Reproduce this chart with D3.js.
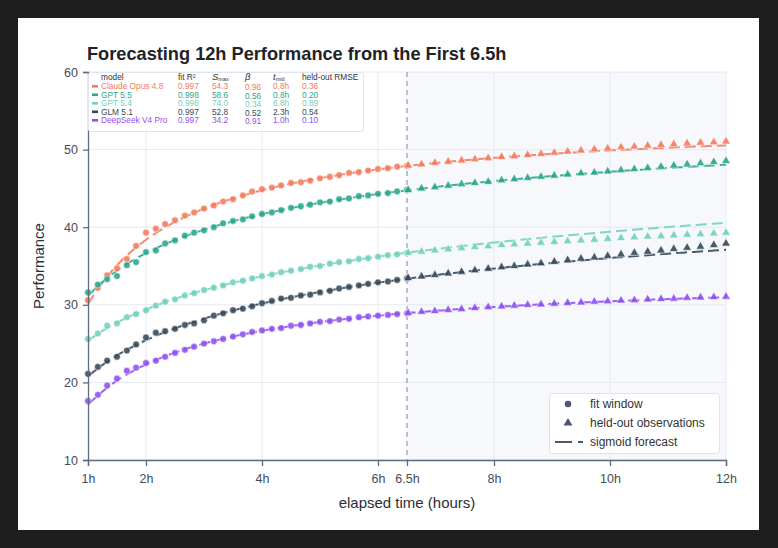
<!DOCTYPE html>
<html><head><meta charset="utf-8">
<script src="https://cdn.jsdelivr.net/npm/d3@7"></script>
<style>html,body{margin:0;padding:0;background:#1e1e1e;}svg{display:block;}</style>
</head><body>
<svg id="c" width="778" height="548"></svg>
<script>
// ---------- data ----------
const models = ["Claude Opus 4.8", "GPT 5.5", "GPT 5.4", "GLM 5.1", "DeepSeek V4 Pro"];
const colors = ["#f47b5d", "#2aa68b", "#72d1bc", "#34495a", "#8f4ff2"];
const fitR2 = ["0.997", "0.998", "0.998", "0.997", "0.997"];
const sMax = [54.3, 58.6, 74.0, 52.8, 34.2];
const beta = [0.96, 0.56, 0.34, 0.52, 0.91];
const tMid = [0.8, 0.8, 6.8, 2.3, 1.0];
const rmse = ["0.36", "0.20", "0.89", "0.54", "0.10"];

const fitTimes = [1.00, 1.17, 1.33, 1.50, 1.67, 1.83, 2.00, 2.17, 2.33, 2.50, 2.67, 2.83, 3.00, 3.17, 3.33, 3.50, 3.67,
  3.83, 4.00, 4.17, 4.33, 4.50, 4.67, 4.83, 5.00, 5.17, 5.33, 5.50, 5.67, 5.83, 6.00, 6.17, 6.33, 6.50];
const heldTimes = [6.52, 6.75, 6.98, 7.21, 7.44, 7.67, 7.90, 8.13, 8.35, 8.58, 8.81, 9.04, 9.27, 9.50, 9.73, 9.96,
  10.19, 10.42, 10.65, 10.88, 11.10, 11.33, 11.56, 11.79, 12.00];

const fitClaude = [30.6, 32.2, 33.8, 34.7, 35.9, 37.6, 39.3, 39.8, 40.4, 40.9, 41.5, 41.9, 42.4, 42.8, 43.3, 43.6, 44.1,
  44.6, 44.9, 45.1, 45.4, 45.7, 45.8, 46.0, 46.3, 46.5, 46.7, 47.0, 47.1, 47.3, 47.5, 47.6, 47.8, 47.9];
const fitGpt55 = [31.6, 32.6, 33.3, 33.7, 35.1, 35.5, 36.8, 37.0, 37.9, 38.3, 38.9, 39.3, 39.6, 40.0, 40.5, 40.8, 41.0,
  41.4, 41.7, 41.9, 42.2, 42.5, 42.7, 42.9, 43.2, 43.3, 43.6, 43.7, 44.0, 44.1, 44.3, 44.4, 44.6, 44.8];
const fitGpt54 = [25.6, 26.3, 27.3, 27.6, 28.4, 28.8, 29.3, 29.9, 30.4, 30.7, 31.2, 31.5, 31.9, 32.2, 32.5, 32.9, 33.1,
  33.4, 33.7, 33.9, 34.2, 34.4, 34.6, 34.9, 35.0, 35.3, 35.5, 35.6, 35.9, 36.0, 36.2, 36.4, 36.5, 36.7];
const fitGlm = [21.1, 22.0, 22.8, 23.3, 24.1, 24.9, 25.8, 26.4, 26.6, 26.9, 27.4, 27.6, 28.0, 28.6, 28.9, 29.3, 29.5,
  29.8, 30.2, 30.5, 30.8, 30.9, 31.2, 31.3, 31.6, 31.8, 32.1, 32.3, 32.5, 32.7, 32.9, 33.0, 33.2, 33.4];
const fitDeepseek = [17.6, 18.4, 19.6, 20.5, 21.5, 21.9, 22.5, 22.8, 23.3, 23.8, 24.2, 24.6, 25.0, 25.3, 25.6, 25.9, 26.2,
  26.5, 26.7, 26.9, 27.0, 27.3, 27.4, 27.6, 27.8, 27.9, 28.1, 28.2, 28.4, 28.5, 28.6, 28.7, 28.8, 28.9];

const heldClaude = [47.95, 48.1, 48.3, 48.45, 48.6, 48.75, 48.9, 49.05, 49.15, 49.3, 49.45, 49.6, 49.75, 49.9, 50.05,
  50.15, 50.3, 50.4, 50.5, 50.6, 50.7, 50.8, 50.9, 50.95, 51.05];
const heldGpt55 = [44.8, 45.0, 45.15, 45.35, 45.55, 45.7, 45.85, 46.05, 46.2, 46.35, 46.5, 46.65, 46.8, 46.95, 47.05,
  47.2, 47.35, 47.5, 47.65, 47.8, 47.95, 48.1, 48.25, 48.4, 48.55];
const heldGpt54 = [36.7, 36.85, 37.0, 37.15, 37.3, 37.45, 37.55, 37.7, 37.8, 37.9, 38.0, 38.1, 38.2, 38.3, 38.4, 38.5,
  38.6, 38.7, 38.8, 38.85, 38.95, 39.05, 39.1, 39.2, 39.3];
const heldGlm = [33.45, 33.65, 33.85, 34.05, 34.25, 34.45, 34.65, 34.85, 35.0, 35.2, 35.35, 35.55, 35.75, 35.95, 36.1,
  36.3, 36.5, 36.7, 36.85, 37.0, 37.2, 37.35, 37.5, 37.7, 37.9];
const heldDeepseek = [28.95, 29.1, 29.2, 29.35, 29.45, 29.6, 29.7, 29.8, 29.9, 30.0, 30.05, 30.15, 30.25, 30.3, 30.4,
  30.45, 30.55, 30.6, 30.7, 30.75, 30.8, 30.9, 30.95, 31.0, 31.05];

const fitSeries = [fitClaude, fitGpt55, fitGpt54, fitGlm, fitDeepseek];
const heldSeries = [heldClaude, heldGpt55, heldGpt54, heldGlm, heldDeepseek];

const xTicks = [1, 2, 4, 6, 6.5, 8, 10, 12];
const xGrid = [2, 4, 6, 8, 10, 12];
const yTicks = [10, 20, 30, 40, 50, 60];
const cutoff = 6.5;

// ---------- drawing ----------
const svg = d3.select("#c");
const font = "'Liberation Sans', Arial, Helvetica, sans-serif";
const L = 88, R = 726, T = 72, B = 460;

svg.append("rect").attr("x", 18).attr("y", 18).attr("width", 741).attr("height", 512).attr("fill", "#ffffff");

const x = d3.scaleLinear().domain([1, 12]).range([L, R]);
const y = d3.scaleLinear().domain([10, 60]).range([B, T]);

// held-out shading
svg.append("rect").attr("x", x(cutoff)).attr("y", T).attr("width", x(12) - x(cutoff)).attr("height", B - T)
  .attr("fill", "#f6f8fc");

// grid
svg.append("g").selectAll("line").data(yTicks).join("line")
  .attr("x1", L).attr("x2", R).attr("y1", d => y(d)).attr("y2", d => y(d))
  .attr("stroke", "#e4e9f1").attr("stroke-width", 1);
svg.append("g").selectAll("line").data(xGrid).join("line")
  .attr("x1", d => x(d)).attr("x2", d => x(d)).attr("y1", T).attr("y2", B)
  .attr("stroke", "#e4e9f1").attr("stroke-width", 1);

// cutoff line
svg.append("line").attr("x1", x(cutoff)).attr("x2", x(cutoff)).attr("y1", T).attr("y2", B)
  .attr("stroke", "#8d9bb0").attr("stroke-width", 1.2).attr("stroke-dasharray", "5,4");

// forecast curves (sigmoid in log-time from the fitted parameters)
const sig = (i, t) => sMax[i] / (1 + Math.pow(tMid[i] / t, beta[i]));
const tGrid = d3.range(1, 12.0001, 0.05);
const line = d3.line().x(d => x(d[0])).y(d => y(d[1]));
models.forEach((m, i) => {
  svg.append("path").datum(tGrid.map(t => [t, sig(i, t)]))
    .attr("d", line).attr("fill", "none").attr("stroke", colors[i])
    .attr("stroke-width", 2).attr("stroke-dasharray", "11,5").attr("opacity", 0.9);
});

// points
const tri = d3.symbol().type(d3.symbolTriangle).size(34);
models.forEach((m, i) => {
  svg.append("g").selectAll("circle").data(fitTimes.map((t, k) => [t, fitSeries[i][k]])).join("circle")
    .attr("cx", d => x(d[0])).attr("cy", d => y(d[1])).attr("r", 3.4)
    .attr("fill", colors[i]).attr("stroke", "#ffffff").attr("stroke-width", 0.6).attr("opacity", 0.88);
  svg.append("g").selectAll("path").data(heldTimes.map((t, k) => [t, heldSeries[i][k]])).join("path")
    .attr("d", tri).attr("transform", d => `translate(${x(d[0])},${y(d[1])})`)
    .attr("fill", colors[i]).attr("stroke", "#ffffff").attr("stroke-width", 0.6).attr("opacity", 0.9);
});

// axes
const axisColor = "#5d6b80";
const yAxis = svg.append("g").attr("transform", `translate(${L},0)`)
  .call(d3.axisLeft(y).tickValues(yTicks).tickSize(5).tickPadding(5).tickFormat(d3.format("d")));
const xAxis = svg.append("g").attr("transform", `translate(0,${B})`)
  .call(d3.axisBottom(x).tickValues(xTicks).tickSize(6).tickPadding(8).tickFormat(d => d + "h"));
[yAxis, xAxis].forEach(a => {
  a.select(".domain").attr("stroke", axisColor).attr("stroke-width", 1.3);
  a.selectAll(".tick line").attr("stroke", axisColor).attr("stroke-width", 1.3);
  a.selectAll(".tick text").attr("fill", "#444c58").attr("font-family", font).attr("font-size", 12.5);
});

// title & labels
svg.append("text").attr("x", 87).attr("y", 60).attr("font-family", font).attr("font-weight", "bold")
  .attr("font-size", 18.2).attr("fill", "#1f2328").text("Forecasting 12h Performance from the First 6.5h");
svg.append("text").attr("x", 407).attr("y", 508).attr("text-anchor", "middle").attr("font-family", font)
  .attr("font-size", 15).attr("fill", "#2b2f36").text("elapsed time (hours)");
svg.append("text").attr("transform", "translate(44,266) rotate(-90)").attr("text-anchor", "middle")
  .attr("font-family", font).attr("font-size", 15).attr("fill", "#2b2f36").text("Performance");

// parameter table
const tb = svg.append("g");
tb.append("rect").attr("x", 88.5).attr("y", 72.5).attr("width", 275).attr("height", 59).attr("rx", 2)
  .attr("fill", "#ffffff").attr("fill-opacity", 0.92).attr("stroke", "#dfe5ee");
const colX = [101, 178, 212, 245, 273, 302];
const hy = 80, rowH = 8.5, fs = 8.3;
const hdr = tb.append("g").attr("font-family", font).attr("font-size", fs).attr("fill", "#333");
hdr.append("text").attr("x", colX[0]).attr("y", hy).text("model");
hdr.append("text").attr("x", colX[1]).attr("y", hy).text("fit R²");
const sm = hdr.append("text").attr("x", colX[2]).attr("y", hy);
sm.append("tspan").attr("font-style", "italic").attr("font-size", 9.5).text("S");
sm.append("tspan").attr("font-size", 5.5).attr("dy", 0.8).text("max");
hdr.append("text").attr("x", colX[3]).attr("y", hy).attr("font-style", "italic").attr("font-size", 9.5).text("β");
const tm = hdr.append("text").attr("x", colX[4]).attr("y", hy);
tm.append("tspan").attr("font-style", "italic").attr("font-size", 9.5).text("t");
tm.append("tspan").attr("font-size", 5.5).attr("dy", 0.8).text("mid");
hdr.append("text").attr("x", colX[5]).attr("y", hy).text("held-out RMSE");
models.forEach((m, i) => {
  const ry = hy + 9 + rowH * i;
  const g = tb.append("g").attr("font-family", font).attr("font-size", fs).attr("fill", colors[i]);
  g.append("rect").attr("x", 92).attr("y", ry - 4).attr("width", 6).attr("height", 2.6).attr("fill", colors[i]);
  g.append("text").attr("x", colX[0]).attr("y", ry).text(m);
  g.append("text").attr("x", colX[1]).attr("y", ry).text(fitR2[i]);
  g.append("text").attr("x", colX[2]).attr("y", ry).text(sMax[i].toFixed(1));
  g.append("text").attr("x", colX[3]).attr("y", ry + 1.2).text(beta[i].toFixed(2));
  g.append("text").attr("x", colX[4]).attr("y", ry).text(tMid[i].toFixed(1) + "h");
  g.append("text").attr("x", colX[5]).attr("y", ry).text(rmse[i]);
});

// marker legend
const lg = svg.append("g");
lg.append("rect").attr("x", 549.5).attr("y", 393.5).attr("width", 170).attr("height", 60).attr("rx", 3)
  .attr("fill", "#ffffff").attr("fill-opacity", 0.92).attr("stroke", "#dde3ec");
const mk = "#4b586d";
lg.append("circle").attr("cx", 568).attr("cy", 404).attr("r", 3.3).attr("fill", mk);
lg.append("path").attr("d", d3.symbol().type(d3.symbolTriangle).size(34)).attr("transform", "translate(568,423)").attr("fill", mk);
lg.append("line").attr("x1", 555).attr("x2", 583).attr("y1", 442).attr("y2", 442).attr("stroke", mk)
  .attr("stroke-width", 2).attr("stroke-dasharray", "17,6");
const lt = lg.append("g").attr("font-family", font).attr("font-size", 12).attr("fill", "#333");
lt.append("text").attr("x", 590).attr("y", 408).text("fit window");
lt.append("text").attr("x", 590).attr("y", 427).text("held-out observations");
lt.append("text").attr("x", 590).attr("y", 446).text("sigmoid forecast");
</script>
</body></html>
